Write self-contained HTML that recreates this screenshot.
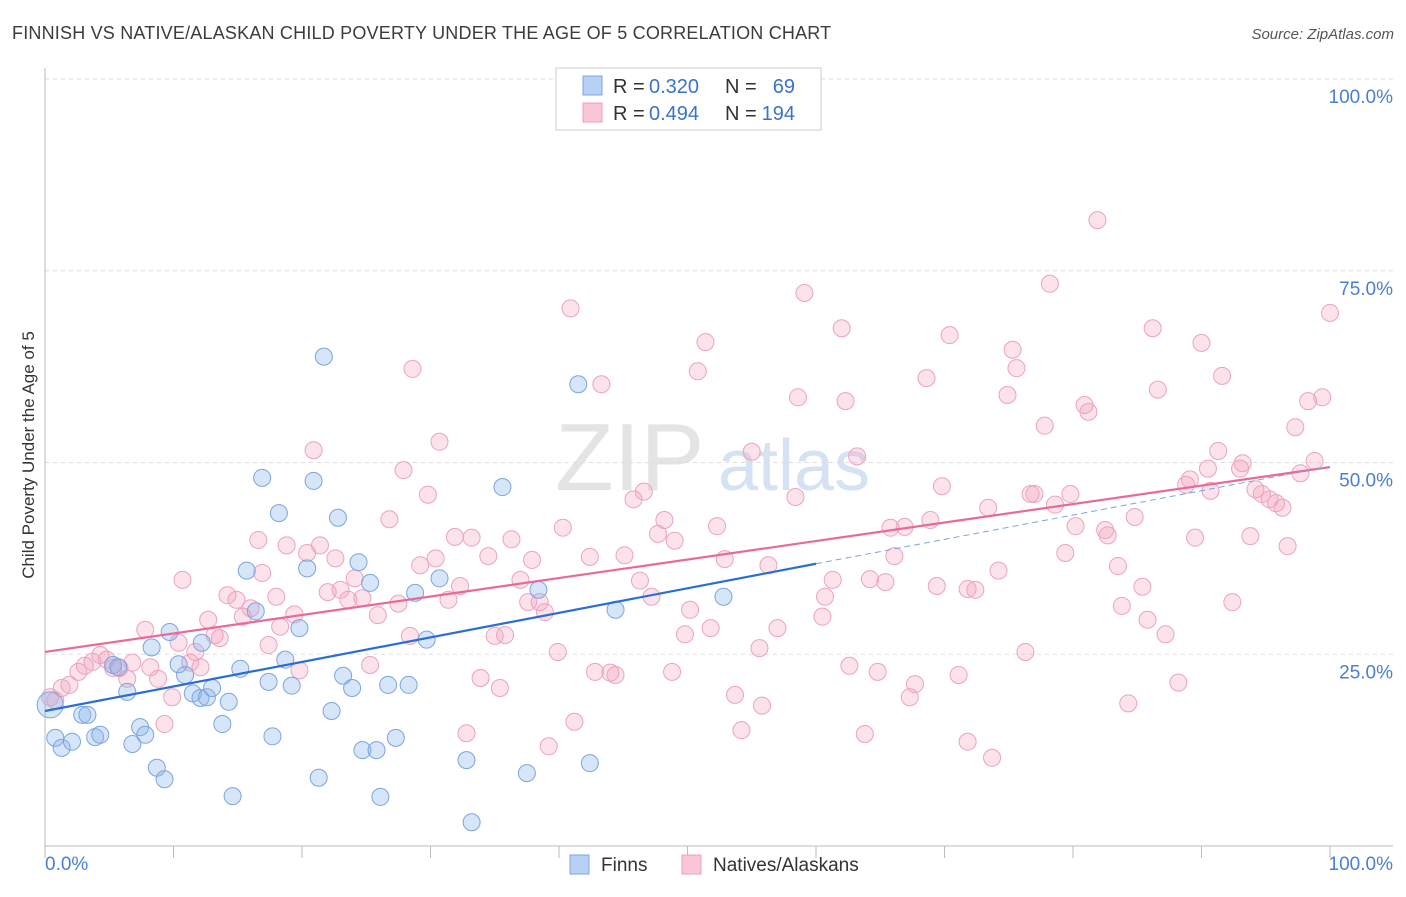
<!DOCTYPE html>
<html><head><meta charset="utf-8">
<style>
body{margin:0;background:#fff;font-family:"Liberation Sans",sans-serif;}
svg text{font-family:"Liberation Sans",sans-serif;}
</style></head>
<body>
<svg id="chart" width="1406" height="892" viewBox="0 0 1406 892" xmlns="http://www.w3.org/2000/svg">
<text x="12" y="39" font-size="18" letter-spacing="0.2" fill="#3c3c3c">FINNISH VS NATIVE/ALASKAN CHILD POVERTY UNDER THE AGE OF 5 CORRELATION CHART</text>
<text x="1394" y="39" font-size="15" fill="#555" font-style="italic" text-anchor="end">Source: ZipAtlas.com</text>
<g>
<text x="555" y="490" font-size="96" fill="#e4e4e4" font-family="Liberation Serif" >ZIP</text>
<text x="718" y="490" font-size="72" fill="#d5e2f3">atlas</text>
</g>
<g id="grid"></g>
<g id="axes"></g>
<g id="pts"></g>
<g id="lines"></g>
<text transform="translate(34,455) rotate(-90)" font-size="17" fill="#333" text-anchor="middle">Child Poverty Under the Age of 5</text>
<g>
<rect x="556" y="68" width="265" height="62" fill="#fff" stroke="#ccc"/>
<rect x="583" y="76" width="19" height="19" fill="#b8d0f3" stroke="#7aa5e0"/>
<text x="613" y="93" font-size="20" fill="#333">R =</text>
<text x="649" y="93" font-size="20" fill="#3a73cc">0.320</text>
<text x="725" y="93" font-size="20" fill="#333">N =</text>
<text x="795" y="93" font-size="20" fill="#3a73cc" text-anchor="end">69</text>
<rect x="583" y="103" width="19" height="19" fill="#f8c6d6" stroke="#eca0b8"/>
<text x="613" y="120" font-size="20" fill="#333">R =</text>
<text x="649" y="120" font-size="20" fill="#3a73cc">0.494</text>
<text x="725" y="120" font-size="20" fill="#333">N =</text>
<text x="795" y="120" font-size="20" fill="#3a73cc" text-anchor="end">194</text>
</g>
<g>
<rect x="570" y="855" width="19" height="19" fill="#b8d0f3" stroke="#7aa5e0"/>
<text x="601" y="871" font-size="19" fill="#333">Finns</text>
<rect x="682" y="855" width="19" height="19" fill="#f8c6d6" stroke="#eca0b8"/>
<text x="713" y="871" font-size="19" fill="#333">Natives/Alaskans</text>
</g>
</svg>
<script>
const yTicks=[25,50,75,100];
const yTickLabels=["25.0%","50.0%","75.0%","100.0%"];
const xTicks=[0,10,20,30,40,50,60,70,80,90,100];
const finnsX=[0.4,0.8,1.3,2.1,2.9,3.3,3.9,4.3,5.3,5.7,6.4,6.8,7.4,7.8,8.3,8.7,9.3,9.7,10.4,10.9,11.5,12.1,12.6,13.0,12.2,13.8,14.3,14.6,15.2,15.7,16.4,16.9,17.4,17.7,18.2,18.7,19.2,19.8,20.4,20.9,21.3,21.7,22.3,22.8,23.2,23.9,24.4,24.7,25.3,25.8,26.1,26.7,27.3,28.3,28.8,29.7,30.7,32.8,33.2,35.6,37.5,38.4,41.5,42.4,44.4,52.8];
const finnsY=[18.4,14.1,12.8,13.6,17.1,17.1,14.2,14.5,23.6,23.3,20.1,13.3,15.5,14.5,25.9,10.2,8.7,27.9,23.7,22.3,19.9,19.3,19.4,20.6,26.5,15.9,18.8,6.5,23.1,35.9,30.6,48.0,21.4,14.3,43.4,24.3,20.9,28.4,36.2,47.6,8.9,63.8,17.6,42.8,22.2,20.6,37.0,12.5,34.3,12.5,6.4,21.0,14.1,21.0,33.0,26.9,34.9,11.2,3.1,46.8,9.5,33.4,60.2,10.8,30.8,32.5];
const nativesX=[0.4,0.8,1.3,1.9,2.6,3.1,3.7,4.3,4.8,5.3,5.8,6.4,6.8,7.8,8.2,8.8,9.3,9.9,10.7,10.4,11.3,11.7,12.1,12.7,13.2,13.6,14.2,14.9,15.4,16.0,16.6,16.9,17.4,18.0,18.3,18.8,19.4,19.8,20.4,20.9,21.4,22.0,22.6,23.0,23.6,24.1,24.7,25.3,25.9,26.8,27.5,27.9,28.6,28.4,29.2,29.8,30.4,30.7,31.4,31.9,32.3,32.8,33.2,33.9,34.5,35.0,35.4,35.8,36.3,37.0,37.6,37.9,38.5,38.9,39.2,39.9,40.3,40.9,41.2,42.4,42.8,43.3,44.0,44.4,45.1,45.8,46.3,46.6,47.2,47.7,48.2,48.8,49.0,49.8,50.2,50.8,51.4,51.8,52.3,52.9,53.7,54.2,55.0,55.6,55.8,56.3,57.0,58.4,58.6,59.1,60.5,60.7,61.3,62.0,62.3,62.6,63.2,63.8,64.2,64.8,65.4,65.8,66.1,66.9,67.3,67.7,68.6,68.9,69.4,69.8,70.4,71.1,71.8,72.4,71.8,73.4,73.7,74.2,74.9,75.3,75.6,76.3,76.7,77.0,77.8,78.2,78.6,79.4,79.8,80.2,80.9,81.2,81.9,82.5,82.7,83.5,83.8,84.3,84.8,85.4,85.8,86.2,86.6,87.2,88.2,88.8,89.1,89.5,90.0,90.5,90.7,91.3,91.6,92.4,93.0,93.2,93.8,94.2,94.7,95.3,95.8,96.3,96.7,97.3,97.7,98.3,98.8,99.4,100];
const nativesY=[19.4,19.0,20.6,21.0,22.7,23.5,24.0,24.9,24.3,23.2,23.2,21.8,23.9,28.2,23.3,21.8,15.9,19.4,34.7,26.5,23.9,25.3,23.3,29.5,27.5,27.1,32.7,32.1,29.9,31.0,39.9,35.6,26.2,32.5,28.6,39.2,30.2,22.9,38.2,51.6,39.2,33.1,37.5,33.4,32.1,34.9,32.3,23.6,30.1,42.6,31.6,49.0,62.2,27.4,36.6,45.8,37.5,52.7,32.1,40.3,33.9,14.7,40.2,21.9,37.8,27.4,20.6,27.5,40.0,34.7,31.8,37.3,31.8,30.5,13.0,25.3,41.5,70.1,16.2,37.7,22.7,60.2,22.6,22.3,37.9,45.2,34.6,46.2,32.5,40.7,42.5,22.7,39.8,27.6,30.8,61.9,65.7,28.4,41.7,37.4,19.7,15.1,51.4,25.8,18.3,36.6,28.4,45.5,58.5,72.1,29.9,32.5,34.7,67.5,58.0,23.5,50.8,14.6,34.8,22.7,34.4,41.5,37.8,41.6,19.4,21.1,61.0,42.5,33.9,46.9,66.6,22.3,33.5,33.4,13.6,44.1,11.5,35.9,58.8,64.7,62.3,25.3,45.9,45.9,54.8,73.3,44.5,38.2,45.9,41.7,57.5,56.6,81.6,41.2,40.5,36.5,31.3,18.6,42.9,33.8,29.5,67.5,59.5,27.6,21.3,47.1,47.8,40.2,65.6,49.2,46.3,51.5,61.3,31.8,49.2,49.9,40.4,46.5,45.9,45.2,44.7,44.1,39.1,54.6,48.6,58.0,50.2,58.5,69.5];
const finnsTrend=[17.6,36.8,49.5];
const finnsTrendX=[0,60,100];
const nativesTrend=[25.3,49.4];
const nativesTrendX=[0,100];

const NS="http://www.w3.org/2000/svg";
const X0=45,X1=1330,Y0=846,Y1=79;
function sx(v){return X0+(X1-X0)*v/100;}
function sy(v){return Y0-(Y0-Y1)*v/100;}
function mk(tag,attrs,parent){const e=document.createElementNS(NS,tag);for(const k in attrs)e.setAttribute(k,attrs[k]);parent.appendChild(e);return e;}
const grid=document.getElementById('grid'),axes=document.getElementById('axes'),pts=document.getElementById('pts'),lines=document.getElementById('lines');
yTicks.forEach((t,i)=>{
  const l=mk('line',{x1:X0,x2:1393,y1:sy(t),y2:sy(t),stroke:'#ddd','stroke-dasharray':'4,4'},grid);
  
  
  const tx=mk('text',{x:1393,y:sy(t)+24,'font-size':19,fill:'#4a7fd4','text-anchor':'end'},axes);
  tx.textContent=yTickLabels[i];
  
  
});
const ya=mk('line',{x1:X0,x2:X0,y1:68,y2:Y0,stroke:'#bbb'},axes);


const xa=mk('line',{x1:X0,x2:1393,y1:Y0,y2:Y0,stroke:'#bbb'},axes);


xTicks.forEach(t=>{
  const l=mk('line',{x1:sx(t),x2:sx(t),y1:Y0,y2:Y0+12,stroke:'#bbb'},axes);
  
  
});
const xl0=mk('text',{x:45,y:870,'font-size':19,fill:'#4a7fd4'},axes);xl0.textContent='0.0%';


const xl1=mk('text',{x:1393,y:870,'font-size':19,fill:'#4a7fd4','text-anchor':'end'},axes);xl1.textContent='100.0%';


nativesX.forEach((x,i)=>{
  const c=mk('circle',{cx:sx(x),cy:sy(nativesY[i]),r:8.5,fill:'rgba(242,160,188,0.3)',stroke:'#eda3bb','stroke-width':1},pts);
  
  
});
finnsX.forEach((x,i)=>{
  const c=mk('circle',{cx:sx(x),cy:sy(finnsY[i]),r:i==0?13:8.5,fill:'rgba(140,180,235,0.35)',stroke:'#7aa5e0','stroke-width':1},pts);
  
  
});
const nl=mk('line',{x1:sx(nativesTrendX[0]),y1:sy(nativesTrend[0]),x2:sx(nativesTrendX[1]),y2:sy(nativesTrend[1]),stroke:'#e8699a','stroke-width':2.2},lines);


const fl=mk('line',{x1:sx(finnsTrendX[0]),y1:sy(finnsTrend[0]),x2:sx(finnsTrendX[1]),y2:sy(finnsTrend[1]),stroke:'#2a6dd6','stroke-width':2.2},lines);


const fd=mk('line',{x1:sx(finnsTrendX[1]),y1:sy(finnsTrend[1]),x2:sx(finnsTrendX[2]),y2:sy(finnsTrend[2]),stroke:'#7aa5e0','stroke-width':1,'stroke-dasharray':'6,4'},lines);


</script>
</body></html>
